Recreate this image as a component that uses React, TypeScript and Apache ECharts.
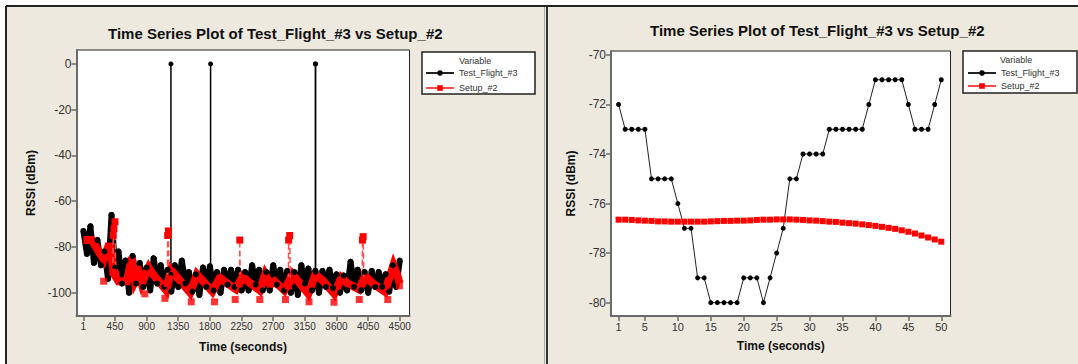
import React, { useEffect, useRef } from "react";
import * as echarts from "echarts";

// ---------- Left panel: whole flight (seconds 1..4500) ----------
const leftXTicks = [1, 450, 900, 1350, 1800, 2250, 2700, 3150, 3600, 4050, 4500];
const leftYTicks = [0, -20, -40, -60, -80, -100];

// Test_Flight_#3 band: upper edge at t = 1 + 100k, lower edge at t = 51 + 100k
const flightUpper = [
  -73, -71, -77, -82, -66, -82, -86, -84, -87, -89, -85, -88, -90, -88, -86, -91, -92, -89, -88.5, -91,
  -90, -90, -90, -91, -88, -90, -91, -88, -90, -90.5, -91, -88, -89.5, -90.5, -90.5, -90, -92, -92.5, -86.5, -90,
  -91, -90.5, -91, -92, -88, -86,
];
const flightLower = [
  -83, -87, -88, -94, -89, -96, -100, -96, -97.5, -99, -96, -97.5, -99.5, -97.5, -96, -99.5, -101, -97.5, -99, -100,
  -96.5, -97.5, -99, -99, -96.5, -99, -99, -96.5, -99, -100, -101, -96, -99, -100, -97.5, -98, -100, -99, -97.5, -99,
  -100, -97.5, -97.5, -99.5, -97.5,
];
// drop-outs of Test_Flight_#3 to 0 dBm
const flightSpikeTimes = [1246, 1810, 3300, 3304];
const flightSpikeBase = [-92, -91, -91, -91];
const flightSpikeTop = [0, 0, 0, 0];

// Setup_#2 saw-tooth vertices
const setupTimes = [
  1, 120, 290, 370, 440, 500, 620, 690, 735, 790, 830, 930, 980, 1140, 1180, 1245, 1520, 1615, 1835, 1940,
  2050, 2170, 2265, 2380, 2510, 2585, 2660, 2720, 2860, 2975, 3200, 3300, 3400, 3570, 3670, 3760, 3920, 4010, 4120, 4290,
  4410, 4460, 4500,
];
const setupValues = [
  -77, -77, -85.5, -78.5, -92, -95, -95, -84.5, -95, -91.5, -96, -89, -91.5, -97.5, -99, -90, -100, -92, -99.5, -93.5,
  -96, -98.5, -93, -96, -99, -92, -96.5, -95, -99, -92, -100.5, -92, -94.5, -100.5, -93.5, -96, -98.5, -92.8, -96, -99.6,
  -88, -92, -96,
];
// isolated low squares
const setupLowTimes = [290, 875, 1160, 1535, 1865, 2160, 2510, 2875, 3210, 3565, 3925, 4330, 4495];
const setupLowValues = [-95, -100.5, -102.5, -104, -104, -103, -103, -103, -104, -104.2, -103, -103, -97];
// upward spikes of Setup_#2
const setupSpikes: [number, number][][] = [
  [[420, -91], [425, -75], [435, -72], [450, -69], [460, -92]],
  [[1195, -96], [1200, -75], [1210, -73], [1220, -94]],
  [[2220, -96], [2225, -77], [2232, -95]],
  [[2915, -97], [2920, -77], [2935, -75], [2945, -95]],
  [[3965, -96], [3970, -77], [3980, -75.5], [3990, -95]],
];

// ---------- Right panel: first 50 seconds ----------
const rightXTicks = [1, 5, 10, 15, 20, 25, 30, 35, 40, 45, 50];
const rightYTicks = [-70, -72, -74, -76, -78, -80];
const flight50 = [
  -72, -73, -73, -73, -73, -75, -75, -75, -75, -76, -77, -77, -79, -79, -80, -80, -80, -80, -80, -79,
  -79, -79, -80, -79, -78, -77, -75, -75, -74, -74, -74, -74, -73, -73, -73, -73, -73, -73, -72, -71,
  -71, -71, -71, -71, -72, -73, -73, -73, -72, -71,
];
const setup50 = [
  -76.65, -76.65, -76.66, -76.68, -76.69, -76.7, -76.72, -76.72, -76.73, -76.73, -76.73, -76.73, -76.73, -76.73, -76.72,
  -76.71, -76.7, -76.7, -76.69, -76.69, -76.68, -76.66, -76.65, -76.65, -76.64, -76.64, -76.64, -76.65, -76.66, -76.68,
  -76.69, -76.71, -76.73, -76.74, -76.77, -76.79, -76.81, -76.84, -76.87, -76.9, -76.94, -76.98, -77.02, -77.08, -77.14,
  -77.21, -77.29, -77.37, -77.45, -77.54,
];

const TITLE = "Time Series Plot of Test_Flight_#3 vs Setup_#2";
const NAMES = ["Test_Flight_#3", "Setup_#2"];
const FONT = "'Liberation Sans', Arial, sans-serif";
const BEIGE = "#EDE9DF";

function buildFlight(): [number, number][] {
  const pts: [number, number][] = [];
  flightUpper.forEach((u, k) => {
    pts.push([Math.min(1 + 100 * k, 4500), u]);
    if (k < flightLower.length) pts.push([51 + 100 * k, flightLower[k]]);
  });
  return pts;
}

function buildFlightSpikes(): any[] {
  const pts: any[] = [];
  flightSpikeTimes.forEach((t, i) => {
    pts.push([t, flightSpikeBase[i]]);
    pts.push([t, flightSpikeTop[i]]);
    pts.push([t + 0.5, null]);
  });
  return pts;
}

function axisCommon(ticks: number[], fontSize: number) {
  return {
    axisLine: { show: true, onZero: false, lineStyle: { color: "#6a6a6a", width: 2 } },
    axisTick: { show: true, length: 5, customValues: ticks, lineStyle: { color: "#6a6a6a", width: 1.5 } },
    axisLabel: {
      customValues: ticks, fontSize, color: "#333", fontFamily: FONT, margin: 5,
      formatter: (v: number) => String(v),
    },
    splitLine: { show: false },
  };
}

export default function App() {
  const ref = useRef<HTMLDivElement>(null);
  useEffect(() => {
    document.body.style.margin = "0";
    const chart = echarts.init(ref.current!, null, { renderer: "svg" });
    const spikeData: any[] = [];
    setupSpikes.forEach((g) => {
      g.forEach((p) => spikeData.push(p));
      spikeData.push([g[g.length - 1][0] + 1, null]);
    });
    const nameStyle = { fontSize: 12, fontWeight: "bold", color: "#111", fontFamily: FONT };
    const titleStyle = { fontSize: 15, fontWeight: "bold", color: "#111", fontFamily: FONT };
    const legendText = { fontSize: 9, color: "#333", fontFamily: FONT, lineHeight: 10 };
    const option: any = {
      animation: false,
      backgroundColor: BEIGE,
      textStyle: { fontFamily: FONT },
      title: [
        { text: TITLE, left: 108, top: 26, padding: 0, textStyle: titleStyle },
        { text: TITLE, left: 650, top: 23, padding: 0, textStyle: titleStyle },
      ],
      legend: [
        {
          data: NAMES, left: 425, top: 68, orient: "vertical", itemWidth: 28, itemHeight: 7, itemGap: 5, padding: 0,
          selectedMode: false, textStyle: legendText,
        },
        {
          data: NAMES, left: 967, top: 68, orient: "vertical", itemWidth: 28, itemHeight: 7, itemGap: 3, padding: 0,
          selectedMode: false, textStyle: legendText,
        },
      ],
      grid: [
        { left: 76.5, top: 50, width: 333, height: 266, show: true, backgroundColor: "#fff", borderColor: "#222", borderWidth: 1 },
        { left: 611, top: 51, width: 339.5, height: 265, show: true, backgroundColor: "#fff", borderColor: "#222", borderWidth: 1 },
      ],
      xAxis: [
        {
          type: "value", gridIndex: 0, min: -97, max: 4639, ...axisCommon(leftXTicks, 10),
          name: "Time (seconds)", nameLocation: "middle", nameGap: 25, nameTextStyle: nameStyle,
        },
        {
          type: "value", gridIndex: 1, min: -0.15, max: 51.4, ...axisCommon(rightXTicks, 11),
          name: "Time (seconds)", nameLocation: "middle", nameGap: 24, nameTextStyle: nameStyle,
        },
      ],
      yAxis: [
        {
          type: "value", gridIndex: 0, min: -110.2, max: 6.1, ...axisCommon(leftYTicks, 12),
          name: "RSSI (dBm)", nameLocation: "middle", nameGap: 40, nameTextStyle: nameStyle,
        },
        {
          type: "value", gridIndex: 1, min: -80.54, max: -69.84, ...axisCommon(rightYTicks, 12),
          name: "RSSI (dBm)", nameLocation: "middle", nameGap: 34, nameTextStyle: nameStyle,
        },
      ],
      series: [
        {
          name: NAMES[0], type: "line", xAxisIndex: 1, yAxisIndex: 1,
          data: flight50.map((v, i) => [i + 1, v]),
          symbol: "circle", symbolSize: 5, itemStyle: { color: "#000" }, lineStyle: { color: "#222", width: 1 },
        },
        {
          name: NAMES[1], type: "line", xAxisIndex: 1, yAxisIndex: 1,
          data: setup50.map((v, i) => [i + 1, v]),
          symbol: "rect", symbolSize: 6, itemStyle: { color: "#ff0000" }, lineStyle: { color: "#ff4a4a", width: 1.5 },
        },
        {
          name: NAMES[0], type: "line", xAxisIndex: 0, yAxisIndex: 0, data: buildFlight(),
          symbol: "circle", symbolSize: 6, itemStyle: { color: "#000" }, lineStyle: { color: "#000", width: 6, join: "round" },
        },
        {
          name: NAMES[0], type: "line", xAxisIndex: 0, yAxisIndex: 0, data: buildFlightSpikes(), connectNulls: false,
          symbol: "circle", symbolSize: 5, showSymbol: true, itemStyle: { color: "#000" }, lineStyle: { color: "#000", width: 1.5 },
        },
        {
          name: NAMES[1], type: "line", xAxisIndex: 0, yAxisIndex: 0, z: 3,
          data: setupTimes.map((t, i) => [t, setupValues[i]]),
          symbol: "rect", showSymbol: false, itemStyle: { color: "#ff0000" },
          lineStyle: { color: "#ff0000", width: 8, join: "miter" },
        },
        {
          name: NAMES[1], type: "line", xAxisIndex: 0, yAxisIndex: 0, z: 3, data: spikeData, connectNulls: false,
          symbol: "rect", symbolSize: 7, itemStyle: { color: "#ff0000" },
          lineStyle: { color: "#ff5050", width: 1.5, type: "dashed" },
        },
        {
          name: NAMES[1], type: "scatter", xAxisIndex: 0, yAxisIndex: 0, z: 3,
          data: setupLowTimes.map((t, i) => [t, setupLowValues[i]]),
          symbol: "rect", symbolSize: 7, itemStyle: { color: "#ff0000" },
        },
      ],
      graphic: [
        { type: "rect", z: -10, shape: { x: 0, y: 0, width: 1078, height: 6 }, style: { fill: "#fff" } },
        { type: "rect", z: -10, shape: { x: 0, y: 0, width: 6, height: 364 }, style: { fill: "#fff" } },
        { type: "line", z: -5, shape: { x1: 6, y1: 6, x2: 1078, y2: 6 }, style: { stroke: "#222", lineWidth: 2 } },
        { type: "line", z: -5, shape: { x1: 6, y1: 6, x2: 6, y2: 364 }, style: { stroke: "#222", lineWidth: 2 } },
        { type: "line", z: -5, shape: { x1: 544.5, y1: 7, x2: 544.5, y2: 364 }, style: { stroke: "#a8a8a8", lineWidth: 1 } },
        { type: "line", z: -5, shape: { x1: 547, y1: 7, x2: 547, y2: 364 }, style: { stroke: "#333", lineWidth: 2 } },
        { type: "rect", z: 1, shape: { x: 422, y: 52, width: 113, height: 42 }, style: { fill: "#fff", stroke: "#222", lineWidth: 1.5 } },
        { type: "rect", z: 1, shape: { x: 963, y: 51, width: 114, height: 42 }, style: { fill: "#fff", stroke: "#222", lineWidth: 1.5 } },
        { type: "text", z: 5, x: 459, y: 61, style: { text: "Variable", fontSize: 9, fill: "#333", fontFamily: FONT, verticalAlign: "middle" } },
        { type: "text", z: 5, x: 1000, y: 60, style: { text: "Variable", fontSize: 9, fill: "#333", fontFamily: FONT, verticalAlign: "middle" } },
      ],
    };
    chart.setOption(option);
    return () => chart.dispose();
  }, []);
  return <div ref={ref} style={{ width: 1078, height: 364 }} />;
}
